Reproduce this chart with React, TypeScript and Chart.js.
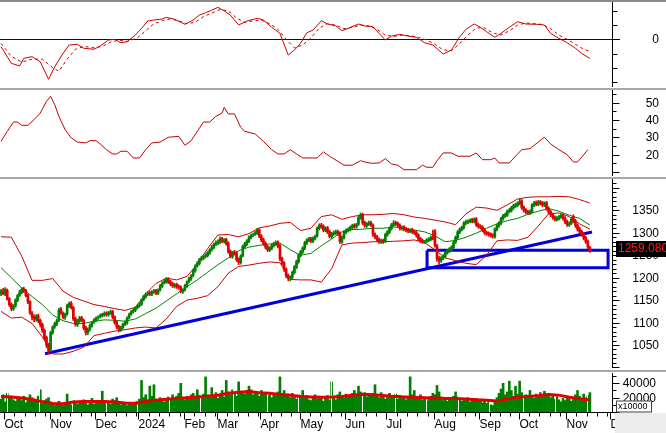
import React, { useEffect, useRef } from 'react';
import { Chart, registerables } from 'chart.js';

Chart.register(...registerables);

// ---------------- DATA ----------------
const monthLabels = ['Oct', 'Nov', 'Dec', '2024', 'Feb', 'Mar', 'Apr', 'May', 'Jun', 'Jul', 'Aug', 'Sep', 'Oct', 'Nov', 'Dec'];
const leadDays = 2; // trading days shown before the first labelled month
const monthTradingDays = [22, 22, 21, 22, 16, 21, 19, 22, 20, 23, 22, 19, 23, 21];

const opens = [
  1164, 1171, 1163, 1172, 1153, 1141, 1130, 1137, 1149, 1161,
  1167, 1175, 1172, 1161, 1147, 1121, 1113, 1107, 1115, 1105,
  1096, 1083, 1067, 1052, 1040, 1077, 1091, 1097, 1105, 1129,
  1121, 1111, 1119, 1137, 1143, 1133, 1109, 1095, 1103, 1111,
  1105, 1089, 1077, 1085, 1093, 1101, 1105, 1111, 1113, 1115,
  1117, 1121, 1117, 1121, 1125, 1113, 1101, 1091, 1083, 1089,
  1097, 1099, 1111, 1119, 1125, 1127, 1133, 1137, 1141, 1151,
  1157, 1163, 1167, 1163, 1169, 1171, 1165, 1173, 1181, 1189,
  1191, 1197, 1191, 1187, 1181, 1185, 1181, 1179, 1169, 1173,
  1181, 1191, 1197, 1205, 1215, 1227, 1231, 1241, 1243, 1247,
  1249, 1255, 1263, 1267, 1275, 1277, 1279, 1287, 1281, 1285,
  1277, 1259, 1247, 1257, 1255, 1241, 1233, 1249, 1269, 1275,
  1281, 1289, 1295, 1297, 1299, 1307, 1293, 1285, 1277, 1269,
  1261, 1265, 1271, 1275, 1279, 1271, 1243, 1233, 1219, 1205,
  1197, 1201, 1211, 1223, 1235, 1249, 1257, 1265, 1277, 1283,
  1287, 1281, 1287, 1293, 1309, 1317, 1315, 1305, 1311, 1303,
  1291, 1297, 1299, 1303, 1299, 1279, 1289, 1301, 1305, 1307,
  1311, 1317, 1313, 1319, 1333, 1341, 1323, 1315, 1319, 1323,
  1317, 1297, 1291, 1285, 1279, 1283, 1281, 1295, 1301, 1309,
  1317, 1323, 1321, 1317, 1309, 1313, 1309, 1307, 1303, 1307,
  1303, 1301, 1295, 1287, 1283, 1279, 1281, 1283, 1285, 1291,
  1304, 1271, 1243, 1237, 1243, 1247, 1255, 1259, 1263, 1267,
  1279, 1289, 1301, 1307, 1311, 1321, 1323, 1325, 1329, 1325,
  1331, 1319, 1315, 1313, 1307, 1301, 1299, 1297, 1295, 1291,
  1307, 1315, 1321, 1331, 1337, 1339, 1347, 1349, 1355, 1359,
  1361, 1365, 1371, 1357, 1351, 1347, 1343, 1347, 1361, 1367,
  1363, 1369, 1367, 1361, 1367, 1355, 1347, 1341, 1335, 1329,
  1331, 1335, 1339, 1333, 1325, 1317, 1321, 1336, 1327, 1317,
  1309, 1303, 1297, 1289, 1281, 1267,
];
const highs = [
  1174, 1176, 1178, 1175, 1156, 1144, 1140, 1153, 1163, 1172,
  1178, 1179, 1174, 1163, 1149, 1125, 1117, 1118, 1119, 1108,
  1099, 1086, 1070, 1054, 1081, 1093, 1101, 1108, 1132, 1134,
  1124, 1121, 1141, 1146, 1147, 1136, 1112, 1107, 1114, 1114,
  1108, 1092, 1088, 1097, 1103, 1109, 1113, 1115, 1119, 1121,
  1124, 1124, 1125, 1128, 1127, 1115, 1104, 1094, 1092, 1099,
  1104, 1113, 1121, 1127, 1131, 1135, 1139, 1144, 1153, 1161,
  1166, 1169, 1170, 1171, 1174, 1174, 1175, 1185, 1191, 1196,
  1200, 1200, 1194, 1190, 1187, 1188, 1184, 1182, 1175, 1185,
  1193, 1201, 1207, 1219, 1229, 1236, 1243, 1248, 1249, 1254,
  1259, 1265, 1272, 1277, 1282, 1284, 1291, 1290, 1287, 1288,
  1280, 1262, 1259, 1261, 1258, 1244, 1251, 1273, 1279, 1285,
  1293, 1297, 1299, 1303, 1310, 1309, 1296, 1288, 1280, 1272,
  1269, 1275, 1279, 1282, 1282, 1274, 1246, 1236, 1222, 1208,
  1204, 1215, 1227, 1239, 1253, 1261, 1269, 1281, 1287, 1290,
  1290, 1291, 1295, 1313, 1320, 1321, 1318, 1313, 1314, 1306,
  1301, 1304, 1306, 1306, 1302, 1293, 1305, 1309, 1311, 1315,
  1319, 1320, 1321, 1337, 1344, 1344, 1326, 1323, 1326, 1326,
  1320, 1300, 1294, 1288, 1286, 1286, 1299, 1305, 1313, 1321,
  1327, 1326, 1324, 1320, 1315, 1316, 1312, 1310, 1309, 1310,
  1306, 1304, 1298, 1290, 1286, 1283, 1287, 1289, 1293, 1306,
  1307, 1274, 1248, 1247, 1251, 1259, 1263, 1267, 1271, 1281,
  1293, 1305, 1311, 1315, 1325, 1328, 1329, 1331, 1332, 1333,
  1334, 1322, 1318, 1316, 1310, 1304, 1302, 1300, 1298, 1311,
  1319, 1325, 1335, 1341, 1344, 1351, 1354, 1359, 1364, 1366,
  1369, 1376, 1374, 1360, 1354, 1350, 1351, 1365, 1370, 1371,
  1372, 1372, 1370, 1369, 1370, 1358, 1350, 1344, 1338, 1336,
  1339, 1342, 1342, 1336, 1328, 1324, 1334, 1340, 1330, 1320,
  1312, 1306, 1300, 1292, 1284, 1270,
];
const lows = [
  1160, 1162, 1160, 1150, 1136, 1126, 1127, 1134, 1146, 1158,
  1164, 1167, 1157, 1142, 1118, 1106, 1102, 1103, 1100, 1090,
  1078, 1062, 1044, 1030, 1036, 1074, 1087, 1093, 1102, 1118,
  1108, 1107, 1116, 1133, 1130, 1104, 1092, 1091, 1100, 1102,
  1084, 1072, 1073, 1081, 1090, 1098, 1102, 1107, 1110, 1112,
  1114, 1114, 1114, 1118, 1108, 1096, 1086, 1079, 1080, 1086,
  1093, 1096, 1108, 1116, 1121, 1124, 1130, 1134, 1138, 1148,
  1154, 1160, 1160, 1160, 1165, 1162, 1162, 1170, 1178, 1186,
  1187, 1187, 1182, 1178, 1177, 1176, 1174, 1166, 1165, 1170,
  1178, 1188, 1194, 1202, 1212, 1223, 1228, 1237, 1240, 1244,
  1246, 1252, 1259, 1264, 1271, 1273, 1275, 1278, 1277, 1272,
  1254, 1244, 1243, 1250, 1236, 1229, 1230, 1246, 1266, 1271,
  1278, 1286, 1291, 1294, 1296, 1289, 1280, 1272, 1264, 1258,
  1258, 1262, 1268, 1272, 1266, 1238, 1228, 1214, 1200, 1193,
  1193, 1197, 1208, 1220, 1232, 1246, 1254, 1262, 1274, 1280,
  1278, 1278, 1284, 1290, 1306, 1310, 1302, 1302, 1298, 1288,
  1288, 1294, 1296, 1294, 1276, 1276, 1286, 1298, 1302, 1304,
  1308, 1310, 1310, 1316, 1330, 1318, 1312, 1312, 1316, 1314,
  1292, 1286, 1280, 1276, 1276, 1276, 1278, 1292, 1298, 1306,
  1314, 1316, 1312, 1306, 1306, 1304, 1302, 1300, 1300, 1298,
  1296, 1290, 1282, 1278, 1276, 1276, 1278, 1280, 1282, 1284,
  1268, 1236, 1230, 1234, 1240, 1244, 1252, 1256, 1260, 1264,
  1276, 1286, 1298, 1304, 1308, 1318, 1320, 1322, 1322, 1322,
  1314, 1310, 1308, 1302, 1296, 1294, 1292, 1290, 1288, 1288,
  1304, 1312, 1318, 1328, 1334, 1336, 1344, 1346, 1352, 1356,
  1358, 1362, 1352, 1346, 1342, 1340, 1340, 1344, 1358, 1360,
  1360, 1362, 1358, 1358, 1350, 1342, 1336, 1330, 1326, 1326,
  1328, 1332, 1328, 1320, 1314, 1314, 1318, 1322, 1312, 1304,
  1298, 1292, 1284, 1276, 1264, 1256,
];
const closes = [
  1170, 1165, 1174, 1152, 1140, 1131, 1136, 1150, 1160, 1168,
  1174, 1171, 1160, 1146, 1122, 1112, 1108, 1114, 1104, 1095,
  1082, 1066, 1050, 1037, 1078, 1090, 1098, 1104, 1128, 1122,
  1112, 1118, 1138, 1142, 1134, 1108, 1096, 1104, 1110, 1106,
  1088, 1078, 1084, 1094, 1100, 1106, 1110, 1112, 1116, 1118,
  1120, 1118, 1122, 1124, 1112, 1100, 1090, 1084, 1088, 1096,
  1100, 1110, 1118, 1124, 1128, 1132, 1136, 1140, 1150, 1158,
  1162, 1165, 1164, 1168, 1170, 1166, 1172, 1182, 1188, 1192,
  1196, 1190, 1186, 1182, 1184, 1180, 1178, 1170, 1172, 1182,
  1190, 1198, 1204, 1216, 1226, 1232, 1240, 1244, 1246, 1250,
  1256, 1262, 1268, 1274, 1278, 1280, 1286, 1282, 1284, 1276,
  1258, 1248, 1256, 1254, 1240, 1234, 1248, 1270, 1276, 1282,
  1290, 1294, 1296, 1300, 1306, 1292, 1284, 1276, 1268, 1262,
  1266, 1272, 1276, 1278, 1270, 1242, 1232, 1218, 1204, 1198,
  1200, 1212, 1224, 1236, 1250, 1258, 1266, 1278, 1284, 1286,
  1282, 1288, 1292, 1310, 1316, 1314, 1306, 1310, 1302, 1292,
  1298, 1300, 1302, 1298, 1280, 1290, 1302, 1306, 1308, 1312,
  1316, 1314, 1318, 1334, 1340, 1322, 1316, 1320, 1322, 1318,
  1296, 1290, 1284, 1280, 1282, 1280, 1296, 1302, 1310, 1318,
  1322, 1320, 1316, 1310, 1312, 1308, 1306, 1304, 1306, 1302,
  1300, 1294, 1286, 1282, 1280, 1280, 1284, 1286, 1290, 1288,
  1272, 1242, 1238, 1244, 1248, 1256, 1260, 1264, 1268, 1278,
  1290, 1302, 1308, 1312, 1322, 1324, 1326, 1328, 1326, 1330,
  1318, 1314, 1312, 1306, 1300, 1298, 1296, 1294, 1292, 1308,
  1316, 1322, 1332, 1338, 1340, 1348, 1350, 1356, 1360, 1362,
  1366, 1370, 1356, 1350, 1346, 1344, 1348, 1362, 1366, 1364,
  1368, 1366, 1362, 1366, 1354, 1346, 1340, 1334, 1330, 1332,
  1336, 1338, 1332, 1324, 1318, 1320, 1330, 1326, 1316, 1308,
  1302, 1296, 1288, 1280, 1268, 1259.08,
];

// Bollinger bands / MA20, read every 5 bars
const bandStep = 5;
const bbUpper = [1291, 1290, 1248, 1194, 1194, 1198, 1170, 1156, 1148, 1140, 1136, 1131, 1127, 1134, 1164, 1187, 1199, 1195, 1203, 1230, 1265, 1295, 1296, 1291, 1298, 1311, 1315, 1321, 1323, 1305, 1310, 1336, 1340, 1330, 1336, 1340, 1340, 1341, 1343, 1340, 1335, 1332, 1328, 1324, 1318, 1342, 1357, 1355, 1350, 1362, 1375, 1379, 1380, 1380, 1381, 1380, 1374, 1366];
const bbMid = [1222, 1200, 1177, 1158, 1140, 1117, 1104, 1098, 1098, 1103, 1106, 1105, 1103, 1108, 1120, 1132, 1148, 1164, 1180, 1195, 1212, 1229, 1244, 1260, 1268, 1272, 1275, 1277, 1262, 1250, 1254, 1271, 1286, 1302, 1307, 1308, 1310, 1310, 1313, 1310, 1306, 1302, 1293, 1280, 1283, 1290, 1299, 1310, 1320, 1327, 1332, 1341, 1348, 1354, 1348, 1339, 1332, 1317];
const bbLower = [1125, 1110, 1112, 1098, 1068, 1030, 1030, 1036, 1045, 1071, 1076, 1081, 1084, 1088, 1090, 1088, 1108, 1136, 1150, 1154, 1160, 1180, 1210, 1225, 1228, 1232, 1235, 1233, 1196, 1195, 1195, 1190, 1220, 1273, 1277, 1278, 1280, 1280, 1281, 1282, 1284, 1278, 1262, 1244, 1238, 1232, 1229, 1250, 1282, 1284, 1283, 1290, 1315, 1342, 1344, 1336, 1320, 1308];

// Drawn trend line and support zone (bar index, price)
const trendIdx = [21.3, 286];
const trendVal = [1030.6, 1301.7];
const zoneIdx = [206.2, 293.8];
const zoneVal = [1222.2, 1260.9];

// MACD panel
const macdIdx = [0, 5, 9, 11, 15, 19, 23, 26, 30, 33, 37, 40, 45, 48, 52, 55, 58, 61, 65, 68, 71, 74, 78, 80, 84, 89, 93, 96, 99, 102, 105, 108, 111, 115, 119, 124, 127, 131, 135, 139, 142, 145, 148, 151, 155, 158, 162, 165, 168, 173, 176, 180, 183, 186, 189, 193, 197, 201, 205, 209, 214, 218, 222, 225, 229, 232, 235, 239, 242, 246, 250, 254, 259, 263, 266, 270, 274, 278, 281, 285];
const macdVal = [-5.2, -16.9, -18.8, -13.4, -12.2, -15.8, -28.2, -19.3, -9.9, -4.0, -3.5, -6.3, -7.0, -4.7, -0.5, 0, -2.4, -1.7, 3.0, 7.7, 12.9, 13.6, 14.3, 15.5, 14.1, 10.6, 13.6, 17.1, 18.7, 20.6, 22.5, 20.1, 17.1, 10.1, 12.9, 14.8, 13.6, 8.5, 4.2, -11.1, -7.5, -2.8, 4.6, 6.5, 13.1, 10.8, 9.4, 6.1, 7.7, 10.8, 9.4, 8.9, 4.2, -0.5, 2.3, 3.5, 2.3, 1.4, -2.4, -4.0, -10.4, -7.5, 1.8, 7.0, 10.8, 8.5, 5.4, 1.4, 4.2, 8.5, 12.4, 10.8, 10.6, 10.1, 4.2, 0.7, -2.4, -6.3, -9.9, -13.4];
const signalIdx = [0, 5, 10, 15, 20, 25, 28, 32, 36, 40, 45, 49, 53, 57, 61, 66, 70, 74, 78, 82, 86, 90, 94, 98, 102, 106, 110, 114, 118, 122, 126, 130, 134, 138, 142, 146, 150, 154, 158, 162, 166, 170, 174, 178, 182, 186, 190, 194, 198, 202, 206, 210, 214, 218, 222, 226, 230, 234, 238, 242, 246, 250, 254, 258, 262, 266, 270, 274, 278, 282, 285];
const signalVal = [-3, -12, -16, -14, -14, -20, -22.5, -14, -7, -5, -6, -5, -2, -0.5, -1.5, 1, 6, 11, 13, 14.5, 13, 11, 12, 16, 18.5, 21, 20, 15, 12, 13, 13.5, 11, 7, 0, -6, -4, 1, 8, 11, 10, 7.5, 8.5, 10, 9.5, 7, 3, 2, 3, 2.5, 1.5, -0.5, -3.5, -7.5, -8, -3, 3, 8, 8, 4.5, 3, 6, 10, 11.5, 11, 10.5, 7.5, 3, 0, -3.5, -7, -8.5];

// Second oscillator panel
const oscIdx = [0, 3, 6, 8, 10, 13, 16, 19, 22, 24, 26, 28, 31, 34, 37, 41, 43, 46, 48, 51, 54, 56, 58, 61, 64, 67, 70, 73, 77, 81, 86, 89, 92, 95, 98, 101, 104, 107, 108, 110, 113, 116, 118, 123, 127, 131, 134, 137, 140, 143, 146, 153, 156, 159, 163, 166, 170, 174, 176, 179, 183, 186, 189, 192, 195, 201, 204, 206, 209, 211, 214, 218, 221, 227, 230, 233, 237, 239, 241, 246, 249, 252, 256, 260, 263, 266, 270, 274, 277, 279, 281, 284];
const oscVal = [27.6, 33.4, 38.8, 38.8, 36.9, 36.9, 40.2, 44.0, 50.8, 53.7, 48.8, 42.1, 34.4, 29.6, 27.2, 26.7, 28.0, 28.0, 26.1, 22.8, 20.3, 20.3, 21.9, 21.9, 18.0, 18.0, 22.8, 26.7, 27.2, 30.0, 30.5, 25.3, 28.0, 33.4, 38.8, 38.8, 42.1, 44.0, 47.3, 43.5, 43.5, 35.7, 33.4, 31.9, 27.6, 22.8, 20.3, 20.3, 22.8, 20.3, 18.0, 18.0, 21.5, 19.0, 16.1, 13.8, 13.8, 16.4, 15.7, 14.9, 15.1, 17.6, 14.5, 13.8, 11.2, 11.2, 13.8, 12.6, 12.6, 16.4, 20.9, 20.9, 19.0, 19.0, 20.9, 17.0, 17.0, 18.0, 15.1, 15.1, 19.0, 22.8, 23.4, 27.2, 30.0, 26.1, 22.8, 19.9, 15.7, 15.7, 18.4, 22.8];

// Volume (thousands, axis unit x10000) and its moving average (every 5 bars)
const volume = [
  18, 24, 14, 26, 20, 22, 17, 15, 21, 19,
  16, 22, 13, 18, 24, 20, 15, 17, 22, 31,
  12, 16, 18, 20, 14, 10, 9, 12, 15, 11,
  9, 13, 25, 12, 10, 16, 14, 11, 15, 13,
  17, 12, 10, 14, 19, 11, 13, 16, 14, 29,
  12, 15, 13, 11, 18, 16, 20, 14, 10, 12,
  11, 9, 13, 12, 10, 14, 15, 18, 44, 20,
  24, 17, 36, 22, 38, 18, 15, 20, 17, 14,
  16, 21, 19, 24, 18, 22, 26, 40, 20, 17,
  22, 18, 24, 26, 21, 31, 23, 19, 25, 49,
  24, 20, 34, 22, 27, 19, 25, 30, 21, 44,
  28, 24, 31, 26, 22, 42, 29, 27, 25, 30,
  36, 31, 24, 28, 26, 22, 30, 25, 27, 21,
  24, 20, 26, 23, 28, 49, 26, 30, 22, 25,
  20, 26, 22, 18, 24, 21, 30, 19, 23, 17,
  16, 20, 24, 18, 22, 19, 15, 21, 23, 17,
  42, 20, 17, 24, 28, 22, 19, 25, 21, 23,
  26, 30, 22, 36, 28, 24, 27, 21, 25, 23,
  26, 38, 22, 20, 27, 24, 18, 22, 26, 21,
  20, 25, 18, 23, 19, 22, 17, 21, 49, 24,
  30, 21, 18, 24, 17, 20, 15, 19, 22, 26,
  24, 37, 28, 21, 16, 18, 15, 20, 17, 22,
  28, 21, 18, 15, 19, 17, 20, 14, 18, 16,
  19, 15, 17, 13, 16, 12, 14, 10, 9, 16,
  20, 26, 32, 40, 24, 28, 43, 30, 22, 36,
  25, 43, 27, 22, 24, 20, 30, 23, 19, 25,
  21, 27, 24, 29, 22, 26, 20, 23, 18, 21,
  17, 14, 19, 16, 22, 18, 15, 20, 24, 30,
  22, 17, 25, 20, 23, 27,
];
const volMA = [21.6, 21, 19.5, 17.5, 14.5, 12, 11.5, 14, 14.8, 14.8, 14.8, 14, 12.5, 11.8, 15, 16.5, 17.8, 19, 19.8, 21, 22, 23.5, 26, 27.5, 28.5, 27, 26, 24.5, 23.5, 21.6, 21, 20.5, 20.8, 21.6, 23.5, 24.8, 24.2, 23, 21.8, 21, 20.5, 20, 19.4, 19, 19, 18, 17.2, 16.3, 15.2, 18, 20.5, 21.8, 22.7, 24.3, 23.5, 20.5, 18.5, 16.6];
const VOL_UNIT = 1000;
const volGridIdx = [2.9, 18.4, 34.4, 50.8, 65.8, 81.3, 96.3, 112.3, 128.7, 143.7, 159.7, 174.7, 190.7, 205.7, 221.2, 236.2, 252.6, 268.1, 283.6];

// Axis tick labels
const macdTickLabels = [0];
const oscTickLabels = [50, 40, 30, 20];
const priceTickLabels = [1350, 1300, 1250, 1200, 1150, 1100, 1050];
const volTickLabels = [40000, 20000];
const lastPriceLabel = '1259.080';
const volUnitLabel = 'x10000';

// ---------------- STYLE / LAYOUT ----------------
const W = 666;
const AXIS_W = 54;
const XMIN = -0.5;
const XMAX = 295.7;
const FONT = "12px 'Liberation Sans', Arial, sans-serif";
const GREEN = '#008000';
const RED = '#e00000';
const BAND = '#cc0000';
const BLUE = '#0000dc';

type Tk = { v: number; len: number; label?: string };

function makeTicks(from: number, to: number, step: number, majorStep: number, labels: number[], majorLen = 7, minorLen = 4): Tk[] {
  const out: Tk[] = [];
  for (let v = from; v <= to + 1e-9; v += step) {
    const isMajor = Math.abs(v / majorStep - Math.round(v / majorStep)) < 1e-9;
    const lbl = labels.find((l) => Math.abs(l - v) < 1e-9);
    out.push({ v, len: isMajor ? majorLen : minorLen, label: lbl !== undefined ? String(lbl) : undefined });
  }
  return out;
}

function axisPlugin(id: string, ticks: Tk[], extra?: (chart: any) => void, labelRight = 659) {
  return {
    id,
    afterDraw(chart: any) {
      const { ctx, chartArea: a, scales } = chart;
      const y = scales.y;
      ctx.save();
      ctx.strokeStyle = '#000';
      ctx.lineWidth = 1;
      const ax = Math.round(a.right) + 0.5;
      ctx.beginPath();
      ctx.moveTo(ax, 0);
      ctx.lineTo(ax, a.bottom);
      ctx.stroke();
      ctx.font = FONT;
      ctx.fillStyle = '#000';
      ctx.textAlign = 'right';
      ctx.textBaseline = 'middle';
      for (const t of ticks) {
        const py = Math.round(y.getPixelForValue(t.v)) + 0.5;
        if (py < 0 || py > a.bottom + 1) continue;
        ctx.beginPath();
        ctx.moveTo(ax, py);
        ctx.lineTo(ax + t.len, py);
        ctx.stroke();
        if (t.label) ctx.fillText(t.label, labelRight, py);
      }
      ctx.restore();
      if (extra) {
        ctx.save();
        extra(chart);
        ctx.restore();
      }
    },
  };
}

function baseOptions(yMin: number, yMax: number, bottom = 0): any {
  return {
    responsive: false,
    maintainAspectRatio: false,
    animation: false,
    devicePixelRatio: 1,
    events: [],
    layout: { padding: { left: 0, right: AXIS_W, top: 0, bottom } },
    plugins: { legend: { display: false }, tooltip: { enabled: false } },
    elements: { point: { radius: 0 }, line: { tension: 0 } },
    scales: {
      x: { type: 'linear', min: XMIN, max: XMAX, offset: false, display: false },
      y: { type: 'linear', min: yMin, max: yMax, display: false },
    },
  };
}

const pts = (xs: number[], ys: number[]) => xs.map((x, i) => ({ x, y: ys[i] }));
const stepPts = (ys: number[], step: number, scale = 1) => ys.map((y, i) => ({ x: i * step, y: y * scale }));

export default function App() {
  const r1 = useRef<HTMLCanvasElement | null>(null);
  const r2 = useRef<HTMLCanvasElement | null>(null);
  const r3 = useRef<HTMLCanvasElement | null>(null);
  const r4 = useRef<HTMLCanvasElement | null>(null);

  useEffect(() => {
    const charts: Chart[] = [];

    // ---- Panel 1: MACD ----
    const macdTicks: Tk[] = makeTicks(-30, 20, 10, 10, macdTickLabels, 5, 5);
    const zeroPlugin = {
      id: 'zero',
      beforeDatasetsDraw(chart: any) {
        const { ctx, chartArea: a, scales } = chart;
        const py = Math.round(scales.y.getPixelForValue(0)) + 0.5;
        ctx.save();
        ctx.strokeStyle = '#000080';
        ctx.lineWidth = 1;
        ctx.beginPath();
        ctx.moveTo(0, py);
        ctx.lineTo(a.right + 8, py);
        ctx.stroke();
        ctx.restore();
      },
    };
    charts.push(
      new Chart(r1.current!, {
        type: 'line',
        data: {
          datasets: [
            { data: pts(macdIdx, macdVal), borderColor: '#cc0000', borderWidth: 1, pointRadius: 0 } as any,
            { data: pts(signalIdx, signalVal), borderColor: '#cc0000', borderWidth: 1, borderDash: [3, 3], pointRadius: 0 } as any,
          ],
        },
        options: baseOptions(-33.6, 26.3),
        plugins: [zeroPlugin, axisPlugin('ax1', macdTicks)],
      })
    );

    // ---- Panel 2: oscillator ----
    const oscTicks = makeTicks(10, 55, 5, 10, oscTickLabels);
    charts.push(
      new Chart(r2.current!, {
        type: 'line',
        data: {
          datasets: [{ data: pts(oscIdx, oscVal), borderColor: '#c00000', borderWidth: 1, pointRadius: 0 } as any],
        },
        options: baseOptions(7.55, 57.35),
        plugins: [axisPlugin('ax2', oscTicks)],
      })
    );

    // ---- Panel 3: price ----
    const priceTicks = makeTicks(1000, 1410, 10, 50, priceTickLabels);
    const candleColors = closes.map((c, i) => (c >= opens[i] ? GREEN : RED));
    const zone = [
      { x: zoneIdx[0], y: zoneVal[1] },
      { x: zoneIdx[1], y: zoneVal[1] },
      { x: zoneIdx[1], y: zoneVal[0] },
      { x: zoneIdx[0], y: zoneVal[0] },
      { x: zoneIdx[0], y: zoneVal[1] },
    ];
    const priceExtra = (chart: any) => {
      const { ctx, scales } = chart;
      const py = Math.round(scales.y.getPixelForValue(closes[closes.length - 1]));
      ctx.fillStyle = '#000';
      ctx.fillRect(616, py - 10, 50, 16);
      ctx.fillStyle = '#ff1a1a';
      ctx.font = FONT;
      ctx.textAlign = 'left';
      ctx.textBaseline = 'middle';
      ctx.fillText(lastPriceLabel, 618, py - 2);
    };
    charts.push(
      new Chart(r3.current!, {
        type: 'bar',
        data: {
          datasets: [
            { type: 'line', data: pts(trendIdx, trendVal), borderColor: BLUE, borderWidth: 3, pointRadius: 0, order: 10 } as any,
            { type: 'line', data: zone, borderColor: BLUE, borderWidth: 3, pointRadius: 0, order: 9 } as any,
            { type: 'line', data: stepPts(bbUpper, bandStep), borderColor: BAND, borderWidth: 1, pointRadius: 0, order: 6 } as any,
            { type: 'line', data: stepPts(bbLower, bandStep), borderColor: BAND, borderWidth: 1, pointRadius: 0, order: 6 } as any,
            { type: 'line', data: stepPts(bbMid, bandStep), borderColor: GREEN, borderWidth: 1, pointRadius: 0, order: 5 } as any,
            {
              type: 'bar',
              data: closes.map((_, i) => ({ x: i, y: [lows[i], highs[i]] })),
              backgroundColor: candleColors,
              barThickness: 1,
              grouped: false,
              borderWidth: 0,
              order: 2,
            } as any,
            {
              type: 'bar',
              data: closes.map((c, i) => ({ x: i, y: [opens[i], c] })),
              backgroundColor: candleColors,
              barThickness: 2,
              grouped: false,
              borderWidth: 0,
              order: 1,
            } as any,
          ],
        },
        options: baseOptions(998.8, 1419.7),
        plugins: [axisPlugin('ax3', priceTicks, priceExtra)],
      })
    );

    // ---- Panel 4: volume + x axis ----
    const volTicks = makeTicks(0, 50000, 10000, 20000, volTickLabels);
    let s = leadDays;
    const monthStarts = [s];
    for (const d of monthTradingDays) {
      s += d;
      monthStarts.push(s);
    }
    const volPlugin = {
      id: 'volgrid',
      afterDatasetDraw(chart: any, args: any) {
        if (args.index !== 0) return;
        const { ctx, chartArea: a, scales } = chart;
        ctx.save();
        ctx.strokeStyle = '#ffffff';
        ctx.lineWidth = 1;
        for (const gi of volGridIdx) {
          const px = Math.round(scales.x.getPixelForValue(gi)) + 0.5;
          ctx.beginPath();
          ctx.moveTo(px, a.top);
          ctx.lineTo(px, a.bottom);
          ctx.stroke();
        }
        ctx.restore();
      },
    };
    const volExtra = (chart: any) => {
      const { ctx, chartArea: a, scales } = chart;
      const xs = scales.x;
      const by = Math.round(a.bottom) + 0.5;
      ctx.strokeStyle = '#000';
      ctx.lineWidth = 1;
      ctx.beginPath();
      ctx.moveTo(0, by);
      ctx.lineTo(Math.round(a.right) + 1, by);
      ctx.stroke();
      ctx.font = FONT;
      ctx.fillStyle = '#000';
      ctx.textAlign = 'left';
      ctx.textBaseline = 'middle';
      monthStarts.forEach((ms, k) => {
        const px = Math.round(xs.getPixelForValue(ms - 0.5)) + 0.5;
        ctx.beginPath();
        ctx.moveTo(px, by);
        ctx.lineTo(px, by + 7);
        ctx.stroke();
        const next = k + 1 < monthStarts.length ? monthStarts[k + 1] : ms + 21;
        for (let j = ms + 5; j < next; j += 5) {
          const mx = Math.round(xs.getPixelForValue(j - 0.5)) + 0.5;
          if (mx > a.right) break;
          ctx.beginPath();
          ctx.moveTo(mx, by);
          ctx.lineTo(mx, by + 4);
          ctx.stroke();
        }
        ctx.fillText(monthLabels[k], px, by + 12);
      });
      // lower-right corner
      ctx.fillStyle = '#ececec';
      ctx.fillRect(615, by + 0.5, W - 615, chart.height - by);
      // unit box
      ctx.fillStyle = '#fff';
      ctx.fillRect(616.5, by - 11.5, 35, 11);
      ctx.strokeStyle = '#404040';
      ctx.strokeRect(616.5, by - 11.5, 35, 11);
      ctx.fillStyle = '#000';
      ctx.font = "9px 'Liberation Sans', Arial, sans-serif";
      ctx.textAlign = 'left';
      ctx.textBaseline = 'middle';
      ctx.fillText(volUnitLabel, 618, by - 6);
    };
    charts.push(
      new Chart(r4.current!, {
        type: 'bar',
        data: {
          datasets: [
            {
              type: 'bar',
              data: volume.map((v, i) => ({ x: i, y: v * VOL_UNIT })),
              backgroundColor: GREEN,
              barThickness: 2,
              grouped: false,
              borderWidth: 0,
              order: 2,
            } as any,
            { type: 'line', data: stepPts(volMA, bandStep, VOL_UNIT), borderColor: '#e00000', borderWidth: 3, pointRadius: 0, order: 1 } as any,
          ],
        },
        options: baseOptions(0, 54400, 21),
        plugins: [volPlugin, axisPlugin('ax4', volTicks, volExtra, 656)],
      })
    );

    return () => charts.forEach((c) => c.destroy());
  }, []);

  const cv = (top: number, h: number): React.CSSProperties => ({ position: 'absolute', left: 0, top, width: W, height: h, display: 'block' });
  const sep = (top: number, color: string): React.CSSProperties => ({ position: 'absolute', left: 0, top, width: W, height: 2, background: color });

  return (
    <div style={{ position: 'fixed', left: 0, top: 0, width: W, height: 433, background: '#fff', overflow: 'hidden' }}>
      <div style={sep(0, '#8a8a8a')} />
      <canvas ref={r1} width={W} height={85} style={cv(2, 85)} />
      <div style={sep(88, '#a8a8a8')} />
      <canvas ref={r2} width={W} height={86} style={cv(90, 86)} />
      <div style={sep(177, '#a8a8a8')} />
      <canvas ref={r3} width={W} height={189} style={cv(179, 189)} />
      <div style={sep(370, '#a8a8a8')} />
      <canvas ref={r4} width={W} height={60} style={cv(373, 60)} />
    </div>
  );
}
